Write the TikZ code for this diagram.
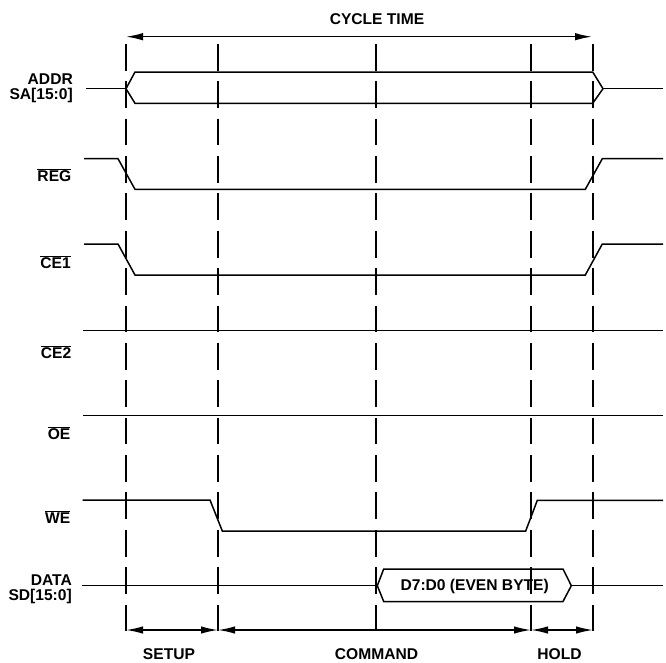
\documentclass[tikz,border=0pt]{standalone}
\usepackage{fontspec}
\setmainfont{Liberation Sans}
\usetikzlibrary{arrows.meta}
\newcommand\ovl[1]{$\overline{\hbox{#1}}$}
\begin{document}
\begin{tikzpicture}[x=1pt,y=-1pt,
  sig/.style={line width=1.5pt, line join=miter},
  guide/.style={line width=1.7pt, dash pattern=on 26.7pt off 10.67pt},
  dim/.style={line width=1.5pt, {Latex[length=17pt,width=7.5pt]}-{Latex[length=17pt,width=7.5pt]}},
  lbl/.style={font=\fontsize{15.6}{16}\selectfont\bfseries, inner sep=0pt},
]
\useasboundingbox (0,0) rectangle (666,662);
% vertical guide lines
\foreach \n/\x in {a/126,b/218,c/376,d/531,e/593} {
  \coordinate (t\n) at (\x,44);
  \coordinate (b\n) at (\x,630.7);
  \coordinate (m\n) at (\x,630);
  \draw[guide] (t\n) -- (b\n);
}
% cycle time
\coordinate (cl) at (126,36.7);
\coordinate (cr) at (592,36.7);
\draw[dim] (cl) -- (cr);
\node[lbl, anchor=base] (ct) at (377,24.5) {CYCLE TIME};
% ADDR bus
\node[lbl, anchor=base east] (l1a) at (73,84) {ADDR};
\node[lbl, anchor=base east] (l1b) at (73,99.5) {SA[15:0]};
\coordinate (a0) at (86,88.7);
\coordinate (a1) at (126,88.7);
\coordinate (a2) at (603,88.7);
\coordinate (a3) at (663,88.7);
\draw[sig] (a0) -- (a1);
\draw[sig] (a1) -- (135,72) -- (592.7,72) -- (a2) -- (592.7,103.3) -- (135,103.3) -- cycle;
\draw[sig] (a2) -- (a3);
% REG
\node[lbl, anchor=base east] (l2) at (71.5,181.7) {\ovl{REG}};
\draw[sig] (84,158.7) -- (118,158.7) -- (135,189.3) -- (585.3,189.3) -- (602.3,158.7) -- (663,158.7);
% CE1
\node[lbl, anchor=base east] (l3) at (71,268) {\ovl{CE1}};
\draw[sig] (84,244) -- (118,244) -- (135,275) -- (585.3,275) -- (602.3,244) -- (663,244);
% CE2
\node[lbl, anchor=base east] (l4) at (71.5,358.3) {\ovl{CE2}};
\draw[sig] (83,330.7) -- (663,330.7);
% OE
\node[lbl, anchor=base east] (l5) at (70.5,439) {\ovl{OE}};
\draw[sig] (83,415.7) -- (663,415.7);
% WE
\node[lbl, anchor=base east] (l6) at (70.5,523.3) {\ovl{WE}};
\draw[sig] (82.7,500) -- (210,500) -- (222.3,531) -- (525.7,531) -- (537.3,500.3) -- (663,500.3);
% DATA bus
\node[lbl, anchor=base east] (l7a) at (72,585) {DATA};
\node[lbl, anchor=base east] (l7b) at (72,600.5) {SD[15:0]};
\coordinate (d0) at (82,585.7);
\coordinate (d1) at (377.3,585.7);
\coordinate (d2) at (571.3,585.7);
\coordinate (d3) at (663,585.7);
\draw[sig] (d0) -- (d1);
\draw[sig] (d1) -- (383.7,569) -- (563,569) -- (d2) -- (563,601.5) -- (383.7,601.5) -- cycle;
\draw[sig] (d2) -- (d3);
\node[lbl, anchor=base] (dv) at (474.7,590.7) {D7:D0 (EVEN BYTE)};
% bottom dimensions
\draw[dim] (ma) -- (mb);
\draw[dim] (mb) -- (md);
\draw[dim] (md) -- (me);
\node[lbl, anchor=base] (s1) at (169,659) {SETUP};
\node[lbl, anchor=base] (s2) at (376.5,659) {COMMAND};
\node[lbl, anchor=base] (s3) at (559.5,659) {HOLD};
\end{tikzpicture}
\end{document}
